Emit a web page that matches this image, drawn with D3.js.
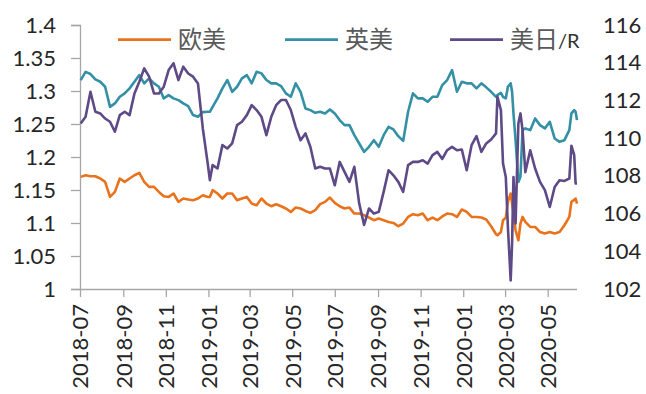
<!DOCTYPE html>
<html><head><meta charset="utf-8">
<script src="https://cdn.jsdelivr.net/npm/d3@7/dist/d3.min.js"></script>
<style>
html,body{margin:0;padding:0;background:#fff;}
svg{display:block;}
</style></head>
<body><svg id="c" width="646" height="394"></svg>
<script>
const dates = ["2018-07-02","2018-07-09","2018-07-16","2018-07-23","2018-07-30","2018-08-06","2018-08-13","2018-08-20","2018-08-27","2018-09-03","2018-09-10","2018-09-17","2018-09-24","2018-10-01","2018-10-08","2018-10-15","2018-10-22","2018-10-29","2018-11-05","2018-11-12","2018-11-19","2018-11-26","2018-12-03","2018-12-10","2018-12-17","2018-12-24","2018-12-31","2019-01-03","2019-01-07","2019-01-14","2019-01-21","2019-01-28","2019-02-04","2019-02-11","2019-02-18","2019-02-25","2019-03-04","2019-03-11","2019-03-18","2019-03-25","2019-04-01","2019-04-08","2019-04-15","2019-04-22","2019-04-29","2019-05-06","2019-05-13","2019-05-20","2019-05-27","2019-06-03","2019-06-10","2019-06-17","2019-06-24","2019-07-01","2019-07-08","2019-07-15","2019-07-22","2019-07-29","2019-08-05","2019-08-12","2019-08-19","2019-08-26","2019-09-02","2019-09-09","2019-09-16","2019-09-23","2019-09-30","2019-10-07","2019-10-14","2019-10-21","2019-10-28","2019-11-04","2019-11-11","2019-11-18","2019-11-25","2019-12-02","2019-12-09","2019-12-16","2019-12-23","2019-12-30","2020-01-06","2020-01-13","2020-01-20","2020-01-27","2020-02-03","2020-02-10","2020-02-17","2020-02-19","2020-02-24","2020-02-27","2020-03-02","2020-03-05","2020-03-09","2020-03-11","2020-03-13","2020-03-16","2020-03-20","2020-03-23","2020-03-26","2020-03-30","2020-04-06","2020-04-13","2020-04-20","2020-04-27","2020-05-04","2020-05-11","2020-05-18","2020-05-25","2020-06-01","2020-06-04","2020-06-08","2020-06-10","2020-06-12"];

const eurusd = [1.1699,1.1724,1.1709,1.1709,1.1674,1.1623,1.1395,1.1471,1.1674,1.1623,1.1674,1.1724,1.176,1.1623,1.1547,1.1547,1.1471,1.1406,1.1395,1.1447,1.132,1.1371,1.1356,1.1345,1.1371,1.1421,1.1395,1.1395,1.1497,1.1447,1.1371,1.1447,1.1447,1.1345,1.1371,1.1395,1.1295,1.1269,1.1371,1.1295,1.1254,1.1285,1.1254,1.122,1.1168,1.1234,1.122,1.1183,1.1153,1.1194,1.1285,1.132,1.1386,1.1305,1.1254,1.122,1.1234,1.1143,1.1143,1.1118,1.1083,1.1042,1.1068,1.1042,1.1016,1.1001,1.0951,1.0992,1.1092,1.1133,1.1118,1.1143,1.1042,1.1083,1.1042,1.11,1.1143,1.1133,1.1092,1.1204,1.1168,1.1092,1.1092,1.1083,1.1052,1.0951,1.0829,1.0814,1.0864,1.1042,1.108,1.132,1.1447,1.1295,1.1143,1.089,1.0738,1.0992,1.1092,1.1016,1.094,1.094,1.0864,1.084,1.0864,1.084,1.0864,1.0966,1.1092,1.132,1.135,1.1371,1.1295];

const gbpusd = [1.3166,1.329,1.3257,1.3176,1.314,1.3064,1.276,1.2812,1.2912,1.2964,1.304,1.314,1.3241,1.3116,1.3191,1.3116,1.3064,1.2888,1.2938,1.2888,1.2862,1.2812,1.2771,1.2635,1.2609,1.268,1.2685,1.2685,1.276,1.2888,1.304,1.3166,1.2988,1.3064,1.3191,1.3241,1.3116,1.329,1.3267,1.3166,1.3116,1.3116,1.3075,1.2964,1.2912,1.3116,1.2988,1.2736,1.271,1.267,1.2685,1.266,1.2721,1.266,1.2559,1.2483,1.2483,1.2331,1.2205,1.2078,1.2154,1.2255,1.2154,1.2331,1.2457,1.2417,1.2316,1.2245,1.2685,1.2964,1.2888,1.2888,1.2837,1.2912,1.2912,1.309,1.3166,1.3317,1.2988,1.314,1.3116,1.3116,1.304,1.3116,1.3055,1.2988,1.2912,1.2938,1.2973,1.2912,1.2888,1.3064,1.3116,1.2988,1.266,1.2255,1.1623,1.17,1.2407,1.2433,1.2407,1.2585,1.2483,1.2433,1.2533,1.2281,1.223,1.2255,1.2407,1.266,1.271,1.2685,1.2559];

const usdjpy = [110.78,111.13,112.46,111.4,111.31,111.04,110.87,110.34,111.22,111.4,111.22,112.37,112.99,113.7,113.26,112.37,112.37,112.73,113.61,113.97,113.08,113.79,113.43,113.26,112.9,110.5,108.65,107.77,108.57,108.39,109.63,109.45,109.72,110.69,110.87,111.22,111.75,111.49,111.13,110.16,111.13,111.75,112.02,112.02,111.49,110.6,109.89,110.25,109.54,108.39,108.48,108.39,108.39,107.5,108.74,108.21,107.68,108.48,106.53,105.4,106.27,106.0,106.09,107.15,108.3,108.03,107.68,107.15,108.57,108.74,108.74,108.83,108.65,109.1,109.27,108.9,109.36,109.54,109.36,109.4,108.3,109.63,110.11,109.27,109.72,109.93,110.25,112.19,111.49,108.65,107.94,105.29,102.46,104.41,107.94,105.47,110.78,111.31,110.42,108.2,109.36,108.39,107.68,107.24,106.35,107.41,107.77,107.73,107.86,109.6,109.1,107.6,107.6];

const leftTicks = [1, 1.05, 1.1, 1.15, 1.2, 1.25, 1.3, 1.35, 1.4];
const rightTicks = [102, 104, 106, 108, 110, 112, 114, 116];
const xTickLabels = ["2018-07","2018-09","2018-11","2019-01","2019-03","2019-05","2019-07","2019-09","2019-11","2020-01","2020-03","2020-05"];
const seriesNames = ["欧美", "英美", "美日"];
const colors = ["#E8731C", "#3490A4", "#5E4A86"];

const parse = d3.timeParse("%Y-%m-%d");
const pm = d3.timeParse("%Y-%m");
const dts = dates.map(parse);

const svg = d3.select("#c");
const L = 80, R = 577, T = 25, B = 289;
const x = d3.scaleTime().domain([parse("2018-07-01"), parse("2020-06-12")]).range([L, R]);
const yL = d3.scaleLinear().domain([1, 1.4]).range([B, T]);
const yR = d3.scaleLinear().domain([102, 116]).range([B, T]);

const FONT = "Lato, 'Open Sans', sans-serif";
const axisCol = "#A6A6A6";
const txtCol = "#262626";

// left axis
const gl = svg.append("g").attr("transform", `translate(${L},0)`)
  .call(d3.axisLeft(yL).tickValues(leftTicks).tickSize(9).tickPadding(15).tickFormat(d => String(+d.toFixed(2))));
gl.select(".domain").attr("stroke", axisCol).attr("stroke-width", 1.3);
gl.selectAll(".tick line").attr("stroke", axisCol).attr("stroke-width", 1.3);
gl.selectAll(".tick text").attr("font-family", FONT).attr("font-size", 22).attr("fill", txtCol);

// right axis (labels only)
const gr = svg.append("g").attr("transform", `translate(${R},0)`)
  .call(d3.axisRight(yR).tickValues(rightTicks).tickSize(0).tickPadding(26));
gr.select(".domain").remove();
gr.selectAll(".tick text").attr("font-family", FONT).attr("font-size", 22).attr("fill", txtCol);

// x axis
const gx = svg.append("g").attr("transform", `translate(0,${B})`)
  .call(d3.axisBottom(x).tickValues(xTickLabels.map(pm)).tickSize(8).tickFormat(d3.timeFormat("%Y-%m")));
gx.select(".domain").attr("stroke", axisCol).attr("stroke-width", 1.3).attr("d", `M${L},0.5H${R}`);
gx.selectAll(".tick line").attr("stroke", axisCol).attr("stroke-width", 1.3);
gx.selectAll(".tick text")
  .attr("font-family", FONT).attr("font-size", 22).attr("fill", txtCol)
  .attr("transform", "rotate(-90)")
  .attr("text-anchor", "end")
  .attr("x", -15).attr("y", 0).attr("dy", "0.36em");

// lines
const mk = (vals, ys) => d3.line().x((d, i) => x(dts[i])).y(d => ys(d))(vals);
const plot = [[eurusd, yL], [gbpusd, yL], [usdjpy, yR]];
plot.forEach(([vals, ys], k) => {
  svg.append("path").attr("d", mk(vals, ys)).attr("fill", "none")
    .attr("stroke", colors[k]).attr("stroke-width", 2.6).attr("stroke-linejoin", "round");
});

// legend
const legX = [118, 285, 450];
const ly = 39.7;
seriesNames.forEach((n, k) => {
  svg.append("line").attr("x1", legX[k]).attr("x2", legX[k] + 53).attr("y1", ly).attr("y2", ly)
    .attr("stroke", colors[k]).attr("stroke-width", 2.8);
  const t = svg.append("text").attr("x", legX[k] + 60).attr("y", ly).attr("dy", "0.36em")
    .attr("font-family", "'Noto Sans CJK SC', sans-serif").attr("font-size", 24).attr("fill", "#595959").text(n);
  if (k === 2) t.append("tspan").attr("font-family", FONT).attr("font-size", 20).attr("fill", "#333").text("/R");
});
</script></body></html>
